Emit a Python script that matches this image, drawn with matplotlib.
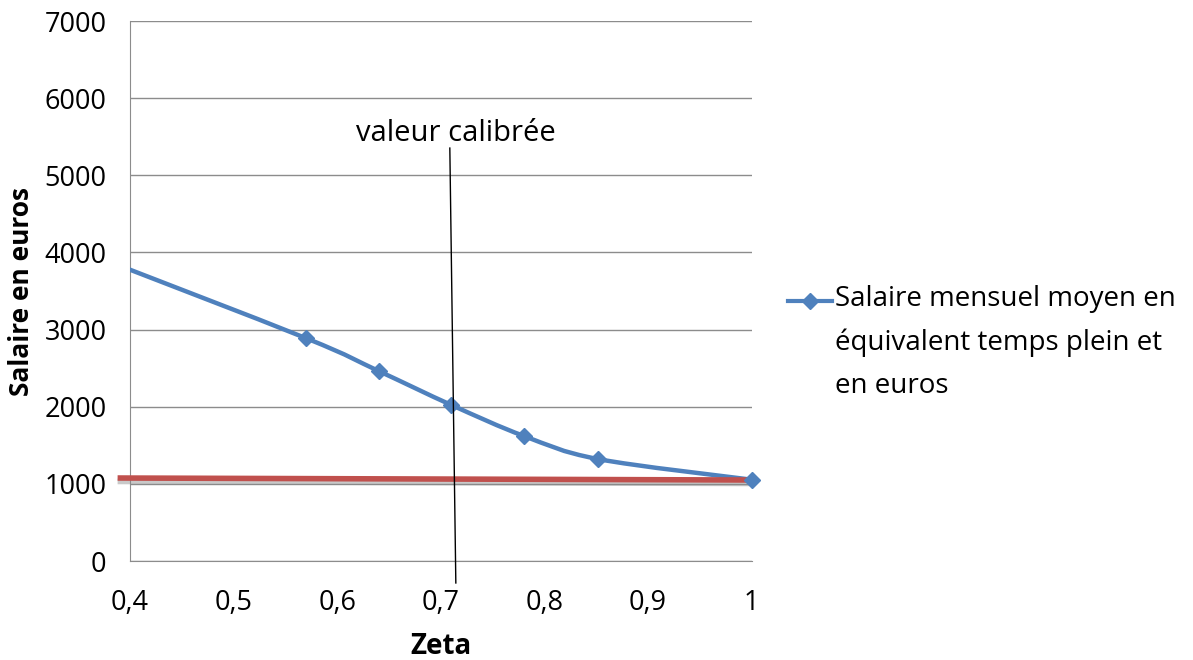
import matplotlib.pyplot as plt
from matplotlib.path import Path
from matplotlib.patches import PathPatch
from matplotlib.lines import Line2D
import matplotlib.patheffects as pe

plt.rcParams['font.family'] = ['Open Sans', 'DejaVu Sans']

# series (first point lies left of the axis, clipped)
zeta = [0.355, 0.5695, 0.640, 0.7103, 0.7804, 0.8517, 1.0]
salaire = [4010, 2891, 2463, 2022, 1620, 1322, 1054]
marker_zeta = zeta[1:]
marker_salaire = salaire[1:]

# hand-drawn shapes in the original
smic_x = [0.388, 1.0]
smic_y = [1076, 1050]
calib_x = [0.7087, 0.7145]
calib_y = [5354, -285]

xticks = [0.4, 0.5, 0.6, 0.7, 0.8, 0.9, 1.0]
xticklabels = ['0,4', '0,5', '0,6', '0,7', '0,8', '0,9', '1']
yticks = [0, 1000, 2000, 3000, 4000, 5000, 6000, 7000]
legend_label = 'Salaire mensuel moyen en\néquivalent temps plein et\nen euros'

blue = '#4F81BD'
red = '#C0504D'

fig = plt.figure(figsize=(11.93, 6.6), dpi=100)
ax = fig.add_axes([0.109, 0.150, 0.521, 0.818])
ax.set_xlim(0.4, 1.0)
ax.set_ylim(0, 7000)

ax.yaxis.grid(True, color='#8c8c8c', linewidth=1.0)
ax.set_axisbelow(True)
for s in ['top', 'right']:
    ax.spines[s].set_visible(False)
ax.spines['left'].set_color('#8c8c8c')
ax.spines['bottom'].set_color('#8c8c8c')
ax.tick_params(length=0, labelsize=19.5)
ax.tick_params(axis='y', pad=17)
ax.tick_params(axis='x', pad=20)
ax.set_xticks(xticks)
ax.set_xticklabels(xticklabels)
ax.set_yticks(yticks)

# smoothed line (Catmull-Rom converted to cubic Bezier segments)
verts = [(zeta[0], salaire[0])]
codes = [Path.MOVETO]
n = len(zeta)
for i in range(n - 1):
    p0 = (zeta[max(i - 1, 0)], salaire[max(i - 1, 0)])
    p1 = (zeta[i], salaire[i])
    p2 = (zeta[i + 1], salaire[i + 1])
    p3 = (zeta[min(i + 2, n - 1)], salaire[min(i + 2, n - 1)])
    c1 = (p1[0] + (p2[0] - p0[0]) / 6, p1[1] + (p2[1] - p0[1]) / 6)
    c2 = (p2[0] - (p3[0] - p1[0]) / 6, p2[1] - (p3[1] - p1[1]) / 6)
    verts += [c1, c2, p2]
    codes += [Path.CURVE4] * 3
ax.add_patch(PathPatch(Path(verts, codes), facecolor='none', edgecolor=blue,
                       linewidth=3.2, zorder=3))

# red horizontal line with soft shadow
ax.plot(smic_x, smic_y, color=red, linewidth=4, clip_on=False, zorder=4,
        solid_capstyle='butt',
        path_effects=[pe.SimpleLineShadow(offset=(0, -2.5), shadow_color='#888888', alpha=0.45),
                      pe.Normal()])

ax.plot(marker_zeta, marker_salaire, linestyle='none', marker='D', markersize=8,
        color=blue, clip_on=False, zorder=5)

# calibrated value marker
ax.plot(calib_x, calib_y, color='black', linewidth=1, clip_on=False, zorder=6)
ax.text(0.7145, 5444, 'valeur calibrée', ha='center', va='baseline', fontsize=21)

ax.set_ylabel('Salaire en euros', fontsize=19, fontweight='bold', labelpad=7)
ax.set_xlabel('Zeta', fontsize=20, fontweight='bold', labelpad=11)

# legend drawn by hand so the marker sits on the first text line
fig.add_artist(Line2D([788 / 1193, 832 / 1193], [1 - 301 / 660, 1 - 301 / 660],
                      color=blue, linewidth=3, transform=fig.transFigure))
fig.add_artist(Line2D([810 / 1193], [1 - 301 / 660], color=blue, marker='D',
                      markersize=8, linestyle='none', transform=fig.transFigure))
fig.text(835 / 1193, 1 - 285 / 660, legend_label, ha='left', va='top',
         fontsize=20, linespacing=1.72, transform=fig.transFigure)

fig.savefig('out.png', dpi=100)
